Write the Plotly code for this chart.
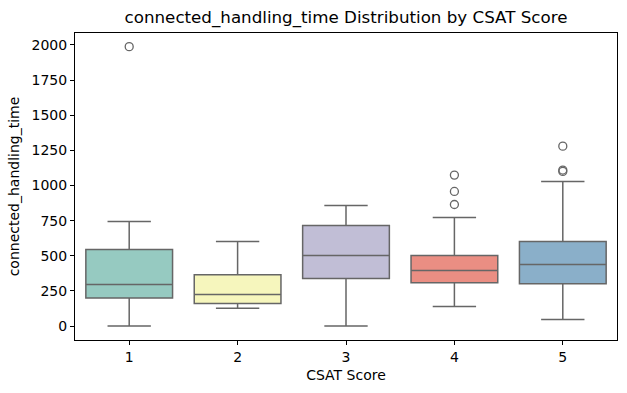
import plotly.graph_objects as go

categories = ["1", "2", "3", "4", "5"]
q1 = [199, 161, 339, 308, 301]
median = [296, 225, 502, 396, 438]
q3 = [545, 365, 716, 502, 602]
lower_whisker = [0, 126, 0, 140, 47]
upper_whisker = [744, 602, 858, 773, 1029]
outliers = {
    "1": [1988],
    "2": [],
    "3": [],
    "4": [865, 958, 1074],
    "5": [1100, 1110, 1280],
}
colors = ["#96cac1", "#f6f6bd", "#c1bed6", "#ea8e83", "#8aafc9"]
line_color = "#666666"

fig = go.Figure()
for i, cat in enumerate(categories):
    fig.add_trace(go.Box(
        x=[i], q1=[q1[i]], median=[median[i]], q3=[q3[i]],
        lowerfence=[lower_whisker[i]], upperfence=[upper_whisker[i]],
        fillcolor=colors[i], line=dict(color=line_color, width=1.5),
        width=0.8, whiskerwidth=0.5, boxpoints=False, showlegend=False,
        hoverinfo="skip",
    ))
    if outliers[cat]:
        fig.add_trace(go.Scatter(
            x=[i] * len(outliers[cat]), y=outliers[cat], mode="markers",
            marker=dict(symbol="circle-open", size=8, color=line_color,
                        line=dict(width=1.3, color=line_color)),
            showlegend=False, hoverinfo="skip",
        ))

font = "DejaVu Sans, sans-serif"
fig.update_layout(
    width=627, height=393,
    margin=dict(l=75, r=10, t=33, b=53),
    paper_bgcolor="white", plot_bgcolor="white",
    font=dict(family=font, size=13, color="black"),
    title=dict(text="connected_handling_time Distribution by CSAT Score",
               x=(75 + 617) / 2 / 627, xanchor="center", y=1 - 17 / 393, yanchor="middle",
               font=dict(size=16.7, color="black", family=font)),
    xaxis=dict(
        range=[-0.5, 4.5], tickmode="array", tickvals=list(range(5)), ticktext=categories,
        showgrid=False, zeroline=False, showline=True, linecolor="black", linewidth=1,
        mirror=True, ticks="outside", ticklen=4, tickcolor="black", automargin=False,
        title=dict(text="CSAT Score", font=dict(size=14), standoff=6),
        tickfont=dict(size=14),
    ),
    yaxis=dict(
        range=[-99, 2085], tickmode="array", tickvals=[0, 250, 500, 750, 1000, 1250, 1500, 1750, 2000],
        showgrid=False, zeroline=False, showline=True, linecolor="black", linewidth=1,
        mirror=True, ticks="outside", ticklen=4, tickcolor="black", automargin=False,
        title=dict(text="connected_handling_time", font=dict(size=14), standoff=8),
        tickfont=dict(size=14),
    ),
)
fig.write_html("out.html", config={"displayModeBar": False},
               post_script="document.body.style.margin='0';")
